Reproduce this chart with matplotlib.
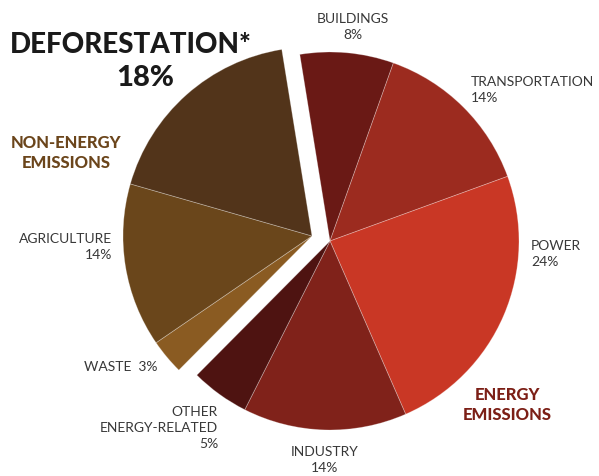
import matplotlib
matplotlib.use("Agg")
import matplotlib.pyplot as plt
from matplotlib import font_manager

# Global greenhouse-gas emissions by source (percent of total)
energy_sources = ["BUILDINGS", "TRANSPORTATION", "POWER", "INDUSTRY", "OTHER\nENERGY-RELATED"]
energy_shares = [8, 14, 24, 14, 5]
energy_colors = ["#6a1915", "#9c2b1f", "#c93725", "#80221a", "#4e1311"]

other_sources = ["WASTE", "AGRICULTURE", "DEFORESTATION*"]
other_shares = [3, 14, 18]
other_colors = ["#8a5b22", "#6a461b", "#52341a"]

available = {f.name for f in font_manager.fontManager.ttflist}
light_font = "Lato" if "Lato" in available else "DejaVu Sans"
heavy_font = "Lato" if "Lato" in available else "DejaVu Sans"

W, H = 599, 477
fig = plt.figure(figsize=(W / 100, H / 100), dpi=100)
ax = fig.add_axes([0, 0, 1, 1])

radius = 189
energy_center = (330, H - 242)
other_center = (312, H - 237)
start = 99.2
total = sum(energy_shares) + sum(other_shares)

edge = dict(edgecolor=(1, 1, 1, 0.3), linewidth=0.6)
# Energy sources, clockwise from just left of twelve o'clock
ax.pie([v / total for v in energy_shares], colors=energy_colors, startangle=start,
       counterclock=False, center=energy_center, radius=radius, wedgeprops=edge,
       normalize=False, frame=True)
# Non-energy sources pick up where the energy sources end, shifted out as a group
ax.pie([v / total for v in other_shares], colors=other_colors,
       startangle=start - 360 * sum(energy_shares) / total, counterclock=False,
       center=other_center, radius=radius, wedgeprops=edge, normalize=False,
       frame=True)

ax.set_xlim(0, W)
ax.set_ylim(0, H)
ax.set_aspect("equal")
ax.axis("off")

label_color = "#383838"
small = dict(fontsize=10, color=label_color, family=light_font, fontweight="normal",
             linespacing=1.4)


def y(img_y):
    return H - img_y


ax.text(353, y(27), f"{energy_sources[0]}\n{energy_shares[0]}%", ha="center", va="center",
        multialignment="center", **small)
ax.text(471, y(90), f"{energy_sources[1]}\n{energy_shares[1]}%", ha="left", va="center",
        multialignment="left", **small)
ax.text(531, y(254), f"{energy_sources[2]}\n{energy_shares[2]}%", ha="left", va="center",
        multialignment="left", **small)
ax.text(325, y(460), f"{energy_sources[3]}\n{energy_shares[3]}%", ha="center", va="center",
        multialignment="center", **small)
ax.text(218, y(428), f"{energy_sources[4]}\n{energy_shares[4]}%", ha="right", va="center",
        multialignment="right", **small)
ax.text(157, y(367), f"{other_sources[0]}  {other_shares[0]}%", ha="right", va="center",
        **small)
ax.text(112, y(247), f"{other_sources[1]}\n{other_shares[1]}%", ha="right", va="center",
        multialignment="right", **small)

ax.text(10, y(45), other_sources[2], ha="left", va="center", fontsize=20,
        fontweight="black", family=heavy_font, color="#1a1a1a")
ax.text(145, y(78), f"{other_shares[2]}%", ha="center", va="center", fontsize=21,
        fontweight="black", family=heavy_font, color="#1a1a1a")

group = dict(fontsize=12, fontweight="black", family=heavy_font, linespacing=1.25,
             ha="center", va="center", multialignment="center")
ax.text(507, y(405), "ENERGY\nEMISSIONS", color="#7c1f16", **group)
ax.text(66, y(153), "NON-ENERGY\nEMISSIONS", color="#6b451b", **group)

fig.savefig("out.png", dpi=100)
